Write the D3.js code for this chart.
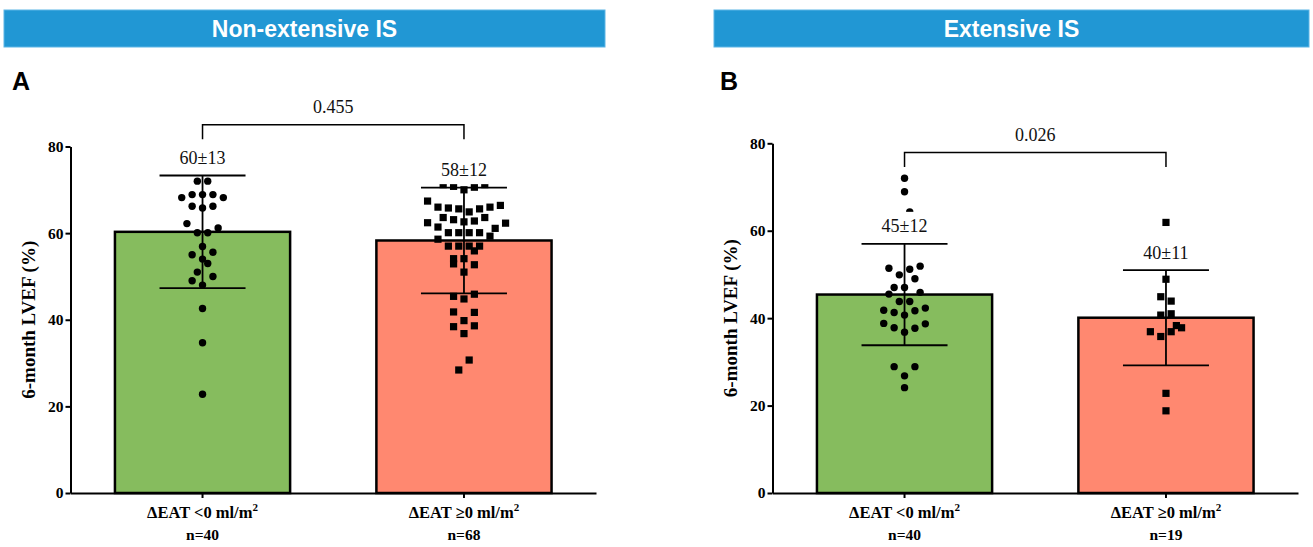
<!DOCTYPE html>
<html><head><meta charset="utf-8">
<script src="https://cdn.jsdelivr.net/npm/d3@7"></script>
<style>body{margin:0;background:#fff}svg{display:block}</style>
</head><body>
<script>
// ---------------- data ----------------
const headerTitles = ["Non-extensive IS", "Extensive IS"];
const panelLetters = ["A", "B"];
const categories = ["\u0394EAT <0 ml/m", "\u0394EAT \u22650 ml/m"];
const sampleSizesA = ["n=40", "n=68"];
const sampleSizesB = ["n=40", "n=19"];
const meansA = [60.3, 58.3];
const sdsA = [13.0, 12.2];
const meansB = [45.4, 40.1];
const sdsB = [11.6, 10.9];
const summaryA = ["60\u00b113", "58\u00b112"];
const summaryB = ["45\u00b112", "40\u00b111"];
const pValues = ["0.455", "0.026"];
const bracketLevels = [85.0, 77.9];
const yTicks = [0, 20, 40, 60, 80];
const yTitle = "6-month LVEF (%)";

// individual patients, grouped in the rows of the scatter (null = empty slot)
const pointsA_neg = [
  [72.0, 72.0],
  [68.2, 68.9, 68.9, 68.9, 68.2],
  [66.2, 65.8, 66.2],
  [62.2, 60.1, 60.1, 61.2],
  [56.9],
  [55.0, 54.0, 55.6],
  [51.0, 53.0],
  [49.0, 48.0, 50.0],
  [42.6], [34.7], [22.8]
];
const pointsA_pos = [
  [71.2, 70.8, 70.0, 70.6, 71.2],
  [67.4, 66.0, 65.8, 65.6, 64.9, 65.6, 66.0, 66.4],
  [null, null, 63.6, 63.1, 62.6, 62.8, 63.6, 61.1, 62.3],
  [62.4, 61.4, 60.1, 60.1, 60.1, 60.1, 59.3, null],
  [58.6, 57.0, 57.0, 57.0, 57.0, null],
  [null, null, 55.9],
  [54.1, 54.1, null],
  [52.9, null, 52.7],
  [51.0],
  [45.4, 44.8, 45.9],
  [41.8, null, 41.7],
  [39.8],
  [38.4, null, 38.6],
  [36.8],
  [28.4, 30.7]
];
const pointsB_neg = [
  [72.0], [68.9],
  [null, 64.3],
  [51.4, 49.9, 51.2, 51.9],
  [47.0, 47.0, 49.0],
  [45.5, 43.8, 43.8, 45.9],
  [41.8, 41.3, 40.7, 41.7, 42.3],
  [38.8, 37.8, 36.8, 37.7, 38.7],
  [28.9, null, 28.9],
  [26.8], [24.1]
];
const pointsB_pos = [
  [61.9], [48.9],
  [44.9, 43.9],
  [40.7, 41.0],
  [null, null, 38.3],
  [36.9, 35.8, 36.9, 37.8],
  [22.8], [18.8]
];

// ---------------- drawing ----------------
const W = 1313, H = 547;
const svg = d3.select("body").append("svg").attr("width", W).attr("height", H);
const serif = "'Liberation Serif','Times New Roman',serif";
const sans = "'Liberation Sans',Arial,sans-serif";
const barColors = ["#86BC5E", "#FF8870"];

const panels = [
  {x0: 70.5, x1: 596, yTop: 146.5, header: [4, 605], letterX: 12, titleX: 28,
   means: meansA, sds: sdsA, summary: summaryA, ns: sampleSizesA,
   points: [pointsA_neg, pointsA_pos]},
  {x0: 772.5, x1: 1298, yTop: 143.3, header: [714, 1309], letterX: 720, titleX: 730,
   means: meansB, sds: sdsB, summary: summaryB, ns: sampleSizesB,
   points: [pointsB_neg, pointsB_pos]}
];
const y0px = 493;

panels.forEach((p, pi) => {
  const g = svg.append("g");
  // header
  g.append("rect").attr("x", p.header[0]).attr("y", 10)
    .attr("width", p.header[1] - p.header[0]).attr("height", 37)
    .attr("fill", "#2197D4").attr("stroke", "#5DB5E6").attr("stroke-width", 1);
  g.append("text").attr("x", (p.header[0] + p.header[1]) / 2).attr("y", 29)
    .attr("text-anchor", "middle").attr("dominant-baseline", "central")
    .attr("fill", "#fff").style("font", `bold 23px ${sans}`).text(headerTitles[pi]);
  g.append("text").attr("x", p.letterX).attr("y", 90)
    .style("font", `bold 25px ${sans}`).attr("fill", "#000").text(panelLetters[pi]);

  const x = d3.scaleBand().domain(categories).range([p.x0, p.x1])
    .paddingInner(0.33).paddingOuter(0.17);
  const y = d3.scaleLinear().domain([0, 80]).range([y0px, p.yTop]);

  // bars
  categories.forEach((c, i) => {
    g.append("rect").attr("x", x(c)).attr("y", y(p.means[i]))
      .attr("width", x.bandwidth()).attr("height", y(0) - y(p.means[i]))
      .attr("fill", barColors[i]).attr("stroke", "#000").attr("stroke-width", 2.5);
  });

  // error bars
  categories.forEach((c, i) => {
    const cx = x(c) + x.bandwidth() / 2;
    const top = y(p.means[i] + p.sds[i]), bot = y(p.means[i] - p.sds[i]);
    g.append("line").attr("x1", cx).attr("x2", cx).attr("y1", top).attr("y2", bot)
      .attr("stroke", "#000").attr("stroke-width", 1.8);
    [top, bot].forEach(v => g.append("line").attr("x1", cx - 43).attr("x2", cx + 43)
      .attr("y1", v).attr("y2", v).attr("stroke", "#000").attr("stroke-width", 1.8));
  });

  // points
  const spacing = 10.4;
  categories.forEach((c, i) => {
    const cx = x(c) + x.bandwidth() / 2;
    const flat = [];
    p.points[i].forEach(row => {
      row.forEach((v, k) => {
        if (v !== null) flat.push({v, dx: (k - (row.length - 1) / 2) * spacing});
      });
    });
    if (i === 0) {
      g.selectAll(null).data(flat).enter().append("circle")
        .attr("cx", d => cx + d.dx).attr("cy", d => y(d.v)).attr("r", 3.7).attr("fill", "#000");
    } else {
      g.selectAll(null).data(flat).enter().append("rect")
        .attr("x", d => cx + d.dx - 3.6).attr("y", d => y(d.v) - 3.6)
        .attr("width", 7.2).attr("height", 7.2).attr("fill", "#000");
    }
  });

  // summary labels with white background
  categories.forEach((c, i) => {
    const cx = x(c) + x.bandwidth() / 2;
    const cap = y(p.means[i] + p.sds[i]);
    const bg = g.append("rect").attr("fill", "#fff");
    const t = g.append("text").attr("x", cx).attr("y", cap - 11.5)
      .attr("text-anchor", "middle").style("font", `18px ${serif}`).attr("fill", "#111")
      .text(p.summary[i]);
    const bb = t.node().getBBox();
    bg.attr("x", bb.x - 2).attr("width", bb.width + 4).attr("y", cap - 32).attr("height", 28.5);
  });

  // bracket + p-value
  const c1 = x(categories[0]) + x.bandwidth() / 2, c2 = x(categories[1]) + x.bandwidth() / 2;
  const by = y(bracketLevels[pi]);
  g.append("path").attr("d", `M${c1},${by + 14.5}V${by}H${c2}V${by + 14.5}`)
    .attr("fill", "none").attr("stroke", "#000").attr("stroke-width", 1.5);
  g.append("text").attr("x", (c1 + c2) / 2).attr("y", by - 11.5).attr("text-anchor", "middle")
    .style("font", `18px ${serif}`).attr("fill", "#111").text(pValues[pi]);

  // y axis
  const ya = g.append("g").attr("transform", `translate(${p.x0},0)`)
    .call(d3.axisLeft(y).tickValues(yTicks).tickSize(5).tickSizeOuter(0).tickPadding(2));
  ya.select(".domain").attr("stroke", "#000").attr("stroke-width", 2);
  ya.selectAll(".tick line").attr("stroke", "#000").attr("stroke-width", 2);
  ya.selectAll(".tick text").style("font", `bold 15.5px ${serif}`).attr("fill", "#000");

  // x axis
  const xa = g.append("g").attr("transform", `translate(0,${y0px})`)
    .call(d3.axisBottom(x).tickSize(5).tickSizeOuter(0).tickFormat(""));
  xa.select(".domain").attr("stroke", "#000").attr("stroke-width", 2);
  xa.selectAll(".tick line").attr("stroke", "#000").attr("stroke-width", 2);

  // category labels
  categories.forEach((c, i) => {
    const cx = x(c) + x.bandwidth() / 2;
    const t = g.append("text").attr("x", cx).attr("y", 518).attr("text-anchor", "middle")
      .style("font", `bold 16.5px ${serif}`).attr("fill", "#000");
    t.append("tspan").text(c);
    t.append("tspan").attr("dy", -7).style("font-size", "11px").text("2");
    g.append("text").attr("x", cx).attr("y", 540).attr("text-anchor", "middle")
      .style("font", `bold 15.5px ${serif}`).attr("fill", "#000").text(p.ns[i]);
  });

  // y title
  g.append("text").attr("transform", `translate(${p.titleX},${(y0px + p.yTop) / 2}) rotate(-90)`)
    .attr("text-anchor", "middle").attr("dominant-baseline", "central")
    .style("font", `bold 19px ${serif}`).attr("fill", "#000").text(yTitle);
});
</script>
</body></html>
